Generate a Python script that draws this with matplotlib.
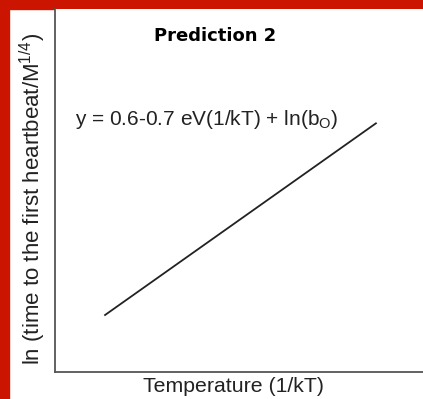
import matplotlib.pyplot as plt
from matplotlib.patches import Rectangle

# straight-line prediction, in axis units (0..1)
line_x = [0.136, 0.872]
line_y = [0.157, 0.685]

title = "Prediction 2"
equation = r"y = 0.6-0.7 eV(1/kT) + ln(b$_\mathregular{O}$)"
xlabel = "Temperature (1/kT)"
ylabel = r"ln (time to the first heartbeat/M$^\mathregular{1/4}$)"

plt.rcParams['font.family'] = ['Liberation Sans', 'DejaVu Sans']
plt.rcParams['mathtext.fontset'] = 'custom'
plt.rcParams['mathtext.rm'] = 'Liberation Sans'

fig = plt.figure(figsize=(4.23, 3.99), dpi=100)
fig.patch.set_facecolor('white')

# red frame on top and left
red = '#cc1500'
fig.add_artist(Rectangle((0, 390 / 399), 1, 9 / 399, transform=fig.transFigure,
                         color=red, zorder=0))
fig.add_artist(Rectangle((0, 0), 9 / 423, 1, transform=fig.transFigure,
                         color=red, zorder=0))

ax = fig.add_axes([55 / 423, 27 / 399, 368 / 423, 363 / 399])
ax.plot(line_x, line_y, color='#222222', lw=1.3)
ax.set_xlim(0, 1)
ax.set_ylim(0, 1)
ax.set_xticks([])
ax.set_yticks([])
for s in ['top', 'right']:
    ax.spines[s].set_visible(False)
for s in ['left', 'bottom']:
    ax.spines[s].set_color('#555555')
    ax.spines[s].set_linewidth(1.3)

ax.text(0.435, 0.925, title, transform=ax.transAxes, ha='center', va='center',
        fontsize=13, fontweight='bold', family=['DejaVu Sans'])
ax.text(0.055, 0.695, equation, transform=ax.transAxes, ha='left', va='center',
        fontsize=15, color='#222222')
fig.text(233 / 423, 12 / 399, xlabel, ha='center', va='center', fontsize=15.3,
         color='#222222')
fig.text(33 / 423, 200 / 399, ylabel, ha='center', va='center', rotation=90,
         fontsize=16, color='#222222')

fig.savefig('out.png', dpi=100)
